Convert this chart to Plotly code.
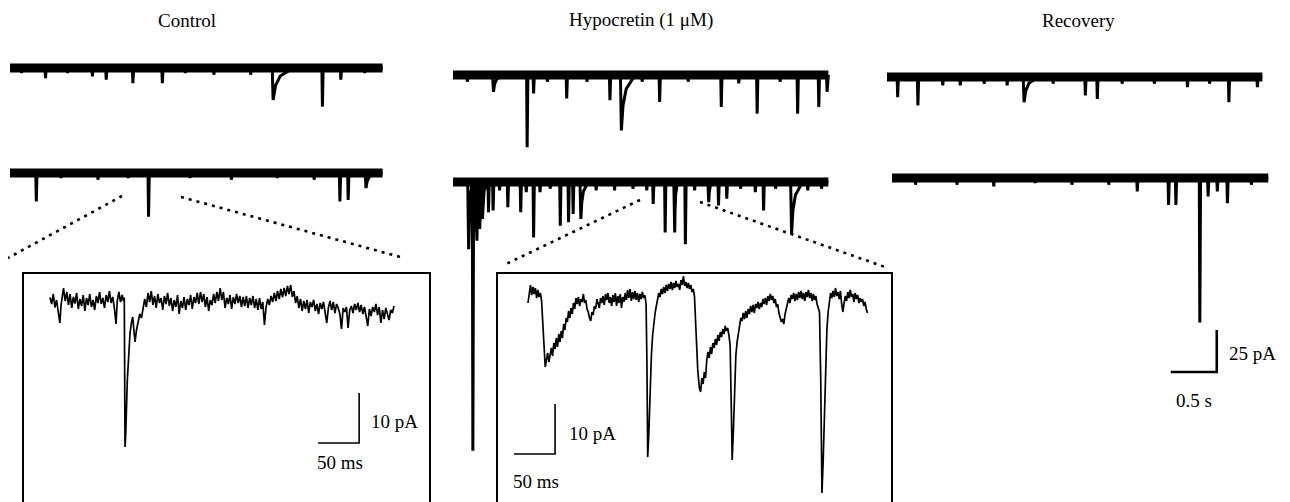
import plotly.graph_objects as go

PAGE_W, PAGE_H = 1290, 502
OFF = 8                       # page margin of the html body
W, H = PAGE_W - OFF, PAGE_H - OFF

# ---------------- DATA ----------------
titles = ["Control", "Hypocretin (1 \u03bcM)", "Recovery"]

# overview sweeps: event onset (s), amplitude (pA, inward), decay (s, 0 = fast)
ctrl1_t = [0.12, 0.38, 0.62, 0.89, 1.04, 1.33, 1.65, 1.90, 2.21, 2.61, 2.85, 3.39, 3.59, 3.85]
ctrl1_a = [3, 6, 3, 5, 7, 9, 9, 3, 4, 4, 19, 23, 7, 3]
ctrl1_d = [0, 0, 0, 0, 0, 0, 0, 0, 0, 0, 0.22, 0, 0, 0]

ctrl2_t = [0.28, 0.55, 0.95, 1.28, 1.50, 1.95, 2.40, 2.90, 3.30, 3.58, 3.67, 3.86]
ctrl2_a = [17, 3, 4, 3, 26, 3, 4, 3, 4, 17, 16, 9]
ctrl2_d = [0, 0, 0, 0, 0, 0, 0, 0, 0, 0, 0, 0.10]

hyp1_t = [0.15, 0.43, 0.80, 0.87, 1.02, 1.23, 1.45, 1.70, 1.82, 2.05, 2.24, 2.55, 2.91, 3.10, 3.30, 3.55, 3.74, 3.97, 4.06]
hyp1_a = [4, 10, 43, 11, 4, 14, 4, 15, 33, 4, 16, 4, 19, 5, 23, 4, 23, 19, 10]
hyp1_d = [0, 0.10, 0, 0, 0, 0, 0, 0, 0.15, 0, 0, 0, 0, 0, 0, 0, 0, 0, 0]

hyp2_t = [0.16, 0.21, 0.23, 0.25, 0.28, 0.31, 0.38, 0.43, 0.50, 0.59, 0.73, 0.79, 0.87, 0.94,
          1.05, 1.16, 1.25, 1.30, 1.38, 1.55, 1.75, 1.95, 2.10, 2.17, 2.30, 2.40, 2.52, 2.62,
          2.77, 2.88, 2.97, 3.12, 3.28, 3.37, 3.50, 3.67, 3.85, 4.00]
hyp2_a = [40, 160, 30, 35, 28, 22, 18, 17, 5, 15, 18, 6, 33, 6,
          4, 26, 24, 19, 22, 5, 5, 4, 5, 13, 30, 30, 37, 5,
          12, 14, 10, 4, 6, 17, 4, 31, 5, 4]
hyp2_d = [0.04, 0, 0.06, 0.05, 0.05, 0.05, 0, 0, 0, 0, 0, 0, 0, 0,
          0, 0, 0, 0, 0.08, 0, 0, 0, 0, 0, 0, 0.03, 0, 0,
          0.04, 0, 0, 0, 0, 0, 0, 0.12, 0, 0]

rec1_t = [0.11, 0.33, 0.60, 0.79, 1.05, 1.30, 1.48, 1.80, 2.15, 2.28, 2.55, 2.90, 3.26, 3.50, 3.71, 4.02]
rec1_a = [12, 17, 5, 5, 4, 5, 15, 4, 11, 13, 4, 4, 6, 4, 15, 6]
rec1_d = [0, 0, 0, 0, 0, 0, 0.15, 0, 0, 0, 0, 0, 0, 0, 0, 0]

rec2_t = [0.25, 0.70, 1.10, 1.55, 1.95, 2.35, 2.66, 3.00, 3.08, 3.34, 3.43, 3.53, 3.64, 3.90]
rec2_a = [4, 4, 5, 3, 4, 4, 8, 16, 16, 86, 11, 8, 15, 4]
rec2_d = [0, 0, 0, 0, 0, 0, 0, 0, 0, 0, 0, 0, 0, 0]

sweep_len = [4.05, 4.05, 4.08, 4.08, 4.08, 4.09]   # s

# expanded insets: (time ms, current pA)
ctrl_inset = [
    (0, 1.5), (2, 0.2), (4, 2.2), (6, -0.5), (8, 1.0), (10, -1.5), (12, -3.6), (13.5, 0.0), (15, 2.0),
    (16.5, 3.4), (18.5, 0.8), (20.5, 2.6), (22.5, 0.0), (24.5, 2.2), (26.5, -0.6), (28.5, 1.6), (30.5, 0.3),
    (32.5, 2.4), (34.5, -0.8), (36.5, 1.2), (38.5, -0.2), (40.5, 2.0), (42.5, -1.2), (44.5, 1.4), (46.5, 0.0),
    (48.5, 2.2), (50.5, -0.4), (52.5, 1.0), (54.5, -1.0), (56.5, 1.8), (58.5, 0.4), (60.5, 2.6), (62.5, 0.2),
    (64.5, 1.4), (66.5, -0.6), (68.5, 2.0), (70.5, 0.6), (72.5, 2.8), (74.5, 0.4), (76.5, 1.6), (78.5, -0.6),
    (80.5, -3.8), (82, 0.8), (84, 2.6), (86, 0.6), (88, 2.0), (89.5, 0.8), (90.6, 1.5), (91.5, -28.4),
    (92.3, -26), (94.3, -15), (96, -9), (97.6, -5.6), (99.3, -3.6), (100.9, -2.4), (102.3, -5.0), (103.7, -7.4),
    (105.5, -5.0), (107.4, -3.6), (109.5, -1.8), (111.5, -2.6), (113.5, -0.6), (115.5, 1.2), (117.5, -0.4),
    (119.5, 2.4), (121.5, 0.6), (123.5, 2.8), (125.5, 0.0), (127.5, 1.8), (129.5, -0.6), (131.5, 2.2),
    (133.5, 0.4), (135.5, 1.4), (137.5, -1.0), (139.5, 1.8), (141.5, 0.2), (143.5, 2.4), (145.5, -0.2),
    (147.5, 1.4), (149.5, -1.2), (151.5, 1.0), (153.5, -0.4), (155.5, 2.0), (157.5, -1.8), (159.5, 0.8),
    (161.5, -0.6), (163.5, 1.6), (165.5, -1.0), (167.5, 1.2), (169.5, 0.0), (171.5, 2.0), (173.5, -0.8),
    (175.5, 1.6), (177.5, 0.4), (179.5, 2.4), (181.5, 0.2), (183.5, 2.6), (185.5, 0.6), (187.5, 2.2),
    (189.5, -0.4), (191.5, 1.6), (193.5, -1.2), (195.5, 1.0), (197.5, 0.0), (199.5, 2.2), (201.5, 0.4),
    (203.5, 2.6), (205.5, 0.8), (207.5, 3.4), (209.5, 1.0), (211.5, 2.6), (213.5, -0.6), (215.5, 1.4),
    (217.5, 0.2), (219.5, 2.0), (221.5, -0.8), (223.5, 1.6), (225.5, 0.2), (227.5, 2.2), (229.5, 0.4),
    (231.5, 1.8), (233.5, -0.4), (235.5, 1.6), (237.5, -0.2), (239.5, 1.8), (241.5, -0.6), (243.5, 1.4),
    (245.5, 0.0), (247.5, 1.8), (249.5, -0.6), (251.5, 1.2), (253.5, -1.0), (255.5, 1.4), (257.5, -0.8),
    (259.5, 0.6), (261.5, -4.0), (263.5, -0.4), (265.5, 1.2), (267.5, 0.0), (269.5, 1.8), (271.5, 0.6),
    (273.5, 2.4), (275.5, 0.8), (277.5, 2.8), (279.5, 1.2), (281.5, 3.2), (283.5, 1.6), (285.5, 3.4),
    (287.5, 1.8), (289.5, 3.8), (291.5, 2.2), (293.5, 4.0), (295.5, 1.6), (297.5, 2.8), (299.5, 0.4),
    (301.5, 1.8), (303.5, -0.6), (305.5, 1.2), (307.5, -1.2), (309.5, 0.8), (311.5, -0.8), (313.5, 1.0),
    (315.5, -1.6), (317.5, 0.6), (319.5, -0.4), (321.5, 1.0), (323.5, -1.2), (325.5, 0.2), (327.5, -1.8),
    (329.5, 0.4), (331.5, -0.8), (333.5, 0.6), (335.5, -1.4), (337.5, -3.6), (339.5, -0.6), (341.5, 0.8),
    (343.5, -1.0), (345.5, 0.6), (347.5, -1.6), (349.5, 0.2), (351.5, -0.6), (353.5, -1.8), (355.5, -4.8),
    (357.5, -0.6), (359.5, -1.4), (361.5, -0.4), (363.5, -4.6), (365.5, -1.0), (367.5, -0.2), (369.5, -1.6),
    (371.5, 0.2), (373.5, -1.0), (375.5, 0.4), (377.5, -1.4), (379.5, 0.0), (381.5, -1.8), (383.5, -0.4),
    (385.5, -2.0), (387.5, -4.2), (389.5, -0.8), (391.5, -2.2), (393.5, -0.4), (395.5, -1.4), (397.5, 0.2),
    (399.5, -2.0), (401.5, -0.4), (403.5, -3.6), (405.5, -1.0), (407.5, -2.8), (409.5, -0.6), (411.5, -1.8),
    (413.5, -3.0), (415.5, -1.0), (417.5, -1.6), (419.5, -0.2)]

hyp_inset = [
    (0, -0.6), (1.5, 1.2), (3, 3.0), (4.5, 1.0), (6, 2.6), (7.5, 1.2), (9, 2.4), (10.5, 0.4), (12, 2.0),
    (13.5, 0.6), (15, 1.4), (16.5, 0.0), (18, -5), (19.5, -10), (21, -13.4), (22.5, -12), (24, -10.6),
    (25.5, -12.4), (27, -11), (28.5, -9.6), (30, -11.2), (31.5, -8.6), (33, -9.8), (34.5, -7.6), (36, -9.4),
    (37.5, -6.8), (39, -8.4), (40.5, -6.2), (42, -7.6), (43.5, -4.8), (45, -6.0), (46.5, -3.6), (48, -4.4),
    (49.5, -2.2), (51, -3.6), (52.5, -1.6), (54, -2.8), (55.5, -0.6), (57, -1.8), (58.5, 0.4), (60, -0.8),
    (61.5, 0.6), (63, -1.2), (64.5, 0.2), (66, -0.4), (67.5, 1.2), (69, -0.6), (70.5, 0.0), (72, -1.8),
    (73.5, -2.4), (75, -3.6), (76.5, -4.2), (78, -2.4), (79.5, -3.0), (81, -1.2), (82.5, -1.8), (84, 0.2),
    (85.5, -0.8), (87, -1.6), (88.5, 0.4), (90, -0.6), (91.5, 0.8), (93, -1.0), (94.5, 1.2), (96, 0.0),
    (97.5, 1.4), (99, -0.6), (100.5, 0.6), (102, -1.2), (103.5, 1.0), (105, -0.4), (106.5, 1.4), (108, -1.2),
    (109.5, 0.8), (111, -0.6), (112.5, 1.2), (114, -1.6), (115.5, 0.6), (117, -0.4), (118.5, 1.4), (120, 0.0),
    (121.5, 2.0), (123, 0.4), (124.5, 2.2), (126, -0.2), (127.5, 1.6), (129, 0.2), (130.5, 1.8), (132, 0.0),
    (133.5, 1.4), (135, -0.4), (136.5, 1.2), (138, 0.2), (139.5, 1.6), (141, 0.4), (142.5, 1.0), (144, -0.8),
    (145, -12), (146, -31.4), (147.5, -26), (149, -18), (150.5, -11), (152, -7), (153.5, -4.4), (155, -2.6),
    (156.5, -1.2), (158, 0.0), (159.5, 1.4), (161, 0.6), (162.5, 2.2), (164, 1.2), (165.5, 2.6), (167, 1.4),
    (168.5, 3.0), (170, 1.8), (171.5, 3.2), (173, 2.2), (174.5, 3.6), (176, 2.0), (177.5, 3.4), (179, 2.4),
    (180.5, 3.8), (182, 2.6), (183.5, 3.2), (185, 2.0), (186.5, 4.0), (188, 3.0), (189.5, 4.8), (191, 2.8),
    (192.5, 3.6), (194, 2.4), (195.5, 3.4), (197, 2.2), (198.5, 3.0), (200, 1.6), (201.5, 2.2), (203, 0.8),
    (205, -8), (207, -14), (209, -17.6), (210.5, -18.4), (212, -15.6), (213.5, -16.8), (215, -14.4),
    (216.5, -15.6), (218, -12), (219.5, -10.4), (221, -11.6), (222.5, -9.4), (224, -10.8), (225.5, -8.6),
    (227, -9.6), (228.5, -7.8), (230, -9.0), (231.5, -7.0), (233, -8.2), (234.5, -6.4), (236, -7.4),
    (237.5, -5.8), (239, -6.8), (240.5, -5.2), (242, -6.2), (243.5, -5.6), (245, -7.0), (246.5, -9.0),
    (248, -22), (249, -32), (250.5, -26), (252, -17), (253.5, -11), (255, -8.4), (256.5, -6.6), (258, -5.0),
    (259.5, -3.6), (261, -4.2), (262.5, -2.6), (264, -3.8), (265.5, -2.2), (267, -3.6), (268.5, -1.8),
    (270, -2.8), (271.5, -1.2), (273, -2.4), (274.5, -1.0), (276, -2.6), (277.5, -0.8), (279, -1.6),
    (280.5, -0.4), (282, -1.8), (283.5, -0.6), (285, -1.4), (286.5, 0.2), (288, -0.8), (289.5, 0.4),
    (291, -1.0), (292.5, 0.8), (294, -0.2), (295.5, 1.2), (297, 0.0), (298.5, 0.8), (300, -0.6), (301.5, 0.2),
    (303, -1.4), (304.5, -0.8), (306, -2.6), (307.5, -3.4), (309, -4.4), (310.5, -3.8), (312, -4.8),
    (313.5, -2.8), (315, -1.8), (316.5, -0.4), (318, 0.4), (319.5, -0.6), (321, 1.0), (322.5, 0.2), (324, 1.4),
    (325.5, -0.2), (327, 1.2), (328.5, 0.0), (330, 1.6), (331.5, 0.4), (333, 1.8), (334.5, 0.2), (336, 1.4),
    (337.5, -0.2), (339, 1.6), (340.5, 0.6), (342, 2.0), (343.5, 0.4), (345, 1.4), (346.5, -0.2), (348, 1.2),
    (349.5, 0.0), (351, 0.8), (352.5, -0.8), (354, -1.6), (355.5, -2.4), (357, -16), (358.5, -38.6),
    (360, -32), (361.5, -22), (363, -12), (364.5, -6), (366, -2.4), (367.5, 0.0), (369, 1.4), (370.5, 0.4),
    (372, 1.8), (373.5, 0.6), (375, 2.4), (376.5, 0.8), (378, 1.6), (379.5, 0.2), (381, 1.8), (382.5, -0.8),
    (384, -2.4), (385.5, -0.6), (387, 0.8), (388.5, -0.2), (390, 1.6), (391.5, 0.4), (393, 2.0), (394.5, 0.6),
    (396, 1.2), (397.5, -0.4), (399, 1.4), (400.5, 0.2), (402, 1.0), (403.5, -0.6), (405, 0.4), (406.5, -0.4),
    (408, 0.2), (409.5, -1.2), (411, -0.4), (412.5, -1.8), (414, -2.6)]

# scale bars: (time length, current length)
overview_bar = (0.5, 25)      # s, pA
inset_bar = (50, 10)          # ms, pA
bar_labels = ["0.5 s", "25 pA", "50 ms", "10 pA"]

# ---------------- LAYOUT CONSTANTS ----------------
OV_SX, OV_SY = 92.0, 1.68     # px per s, px per pA (overview)
IN_SX, IN_SY = 0.82, 5.0      # px per ms, px per pA (inset)
# (left page-px, baseline page-px) for each axis system
panels = [
    (10, 68, OV_SX, OV_SY), (10, 173, OV_SX, OV_SY),
    (453, 75, OV_SX, OV_SY), (453, 182, OV_SX, OV_SY),
    (887, 77, OV_SX, OV_SY), (892, 178, OV_SX, OV_SY),
    (50, 305, IN_SX, IN_SY), (528, 300, IN_SX, IN_SY),
]
FONT = dict(family="Liberation Serif, Times New Roman, serif", size=19, color="black")

fig = go.Figure()

for i, (Lp, Bp, sx, sy) in enumerate(panels, start=1):
    L, B = Lp - OFF, Bp - OFF
    sfx = "" if i == 1 else str(i)
    xa = dict(domain=[0, 1], range=[-L / sx, (W - L) / sx], visible=False, fixedrange=True,
              anchor="y" + sfx)
    ya = dict(domain=[0, 1], range=[-(H - B) / sy, B / sy], visible=False, fixedrange=True,
              anchor="x" + sfx)
    if i > 1:
        xa["overlaying"] = "x"
        ya["overlaying"] = "y"
    fig.update_layout(**{"xaxis" + sfx: xa, "yaxis" + sfx: ya})


def ax(i):
    return ("x", "y") if i == 1 else ("x%d" % i, "y%d" % i)


def event_path(ts, amps, decs, T):
    xs, ys = [0.0], [0.0]
    for t, a, d in sorted(zip(ts, amps, decs)):
        if d == 0:
            pts = [(t, 0), (t + 0.006, -a), (t + 0.014, 0)]
        else:
            pts = [(t, 0), (t + 0.01, -a), (t + 0.01 + 0.12 * d, -0.55 * a),
                   (t + 0.01 + 0.35 * d, -0.25 * a), (t + 0.01 + d, 0)]
        for x, y in pts:
            xs.append(x)
            ys.append(y)
    xs.append(T)
    ys.append(0.0)
    return xs, ys


sweeps = [(ctrl1_t, ctrl1_a, ctrl1_d), (ctrl2_t, ctrl2_a, ctrl2_d),
          (hyp1_t, hyp1_a, hyp1_d), (hyp2_t, hyp2_a, hyp2_d),
          (rec1_t, rec1_a, rec1_d), (rec2_t, rec2_a, rec2_d)]

for i, ((ts, amps, decs), T) in enumerate(zip(sweeps, sweep_len), start=1):
    xr, yr = ax(i)
    fig.add_trace(go.Scatter(x=[0, T], y=[0, 0], mode="lines", line=dict(color="black", width=9),
                             xaxis=xr, yaxis=yr, hoverinfo="skip", showlegend=False))
    ex, ey = event_path(ts, amps, decs, T)
    fig.add_trace(go.Scatter(x=ex, y=ey, mode="lines", line=dict(color="black", width=3),
                             xaxis=xr, yaxis=yr, hoverinfo="skip", showlegend=False))

for i, pts in ((7, ctrl_inset), (8, hyp_inset)):
    xr, yr = ax(i)
    fig.add_trace(go.Scatter(x=[p[0] for p in pts], y=[p[1] for p in pts], mode="lines",
                             line=dict(color="black", width=1.7),
                             xaxis=xr, yaxis=yr, hoverinfo="skip", showlegend=False))

# scale bars (corner position in each axis' units)
bar_specs = [(6, 3.53, -115.5, overview_bar, 2.6), (7, 377, -27.6, inset_bar, 1.6), (8, 33, -30.8, inset_bar, 1.6)]
for i, cx, cy, (dx, dy), w in bar_specs:
    xr, yr = ax(i)
    fig.add_trace(go.Scatter(x=[cx - dx, cx, cx], y=[cy, cy, cy + dy], mode="lines",
                             line=dict(color="black", width=w),
                             xaxis=xr, yaxis=yr, hoverinfo="skip", showlegend=False))


def P(px, py):
    return (px - OFF) / W, 1 - (py - OFF) / H


shapes = []


def seg(x0, y0, x1, y1, width=2, dash=None):
    a, b = P(x0, y0)
    c, d = P(x1, y1)
    line = dict(color="black", width=width)
    if dash:
        line["dash"] = dash
    shapes.append(dict(type="line", xref="paper", yref="paper", x0=a, y0=b, x1=c, y1=d, line=line))


# inset boxes
seg(23, 273, 430, 273)
seg(23, 272, 23, 510)
seg(430, 272, 430, 510)
seg(497, 273, 892, 273)
seg(497, 272, 497, 510)
seg(892, 272, 892, 510)
# zoom guide lines
seg(122, 196, 8, 258, 2.6, "3px,5px")
seg(181, 197, 404, 258, 2.6, "3px,5px")
seg(640, 200, 506, 264, 2.6, "3px,5px")
seg(700, 202, 885, 267, 2.6, "3px,5px")

annots = []


def txt(s, px, py, xanchor="center"):
    a, b = P(px, py)
    annots.append(dict(text=s, x=a, y=b, xref="paper", yref="paper", showarrow=False,
                       xanchor=xanchor, yanchor="middle", font=FONT))


txt(titles[0], 187, 20)
txt(titles[1], 641, 20)
txt(titles[2], 1078, 20)
txt(bar_labels[0], 1194, 400)
txt(bar_labels[1], 1227, 353, "left")
txt(bar_labels[2], 340, 462)
txt(bar_labels[3], 369, 421, "left")
txt(bar_labels[2], 511, 481, "left")
txt(bar_labels[3], 567, 433, "left")

fig.update_layout(width=W, height=H, margin=dict(l=0, r=0, t=0, b=0),
                  paper_bgcolor="white", plot_bgcolor="white", showlegend=False,
                  shapes=shapes, annotations=annots)

fig.write_html("out.html", config={"displayModeBar": False})
